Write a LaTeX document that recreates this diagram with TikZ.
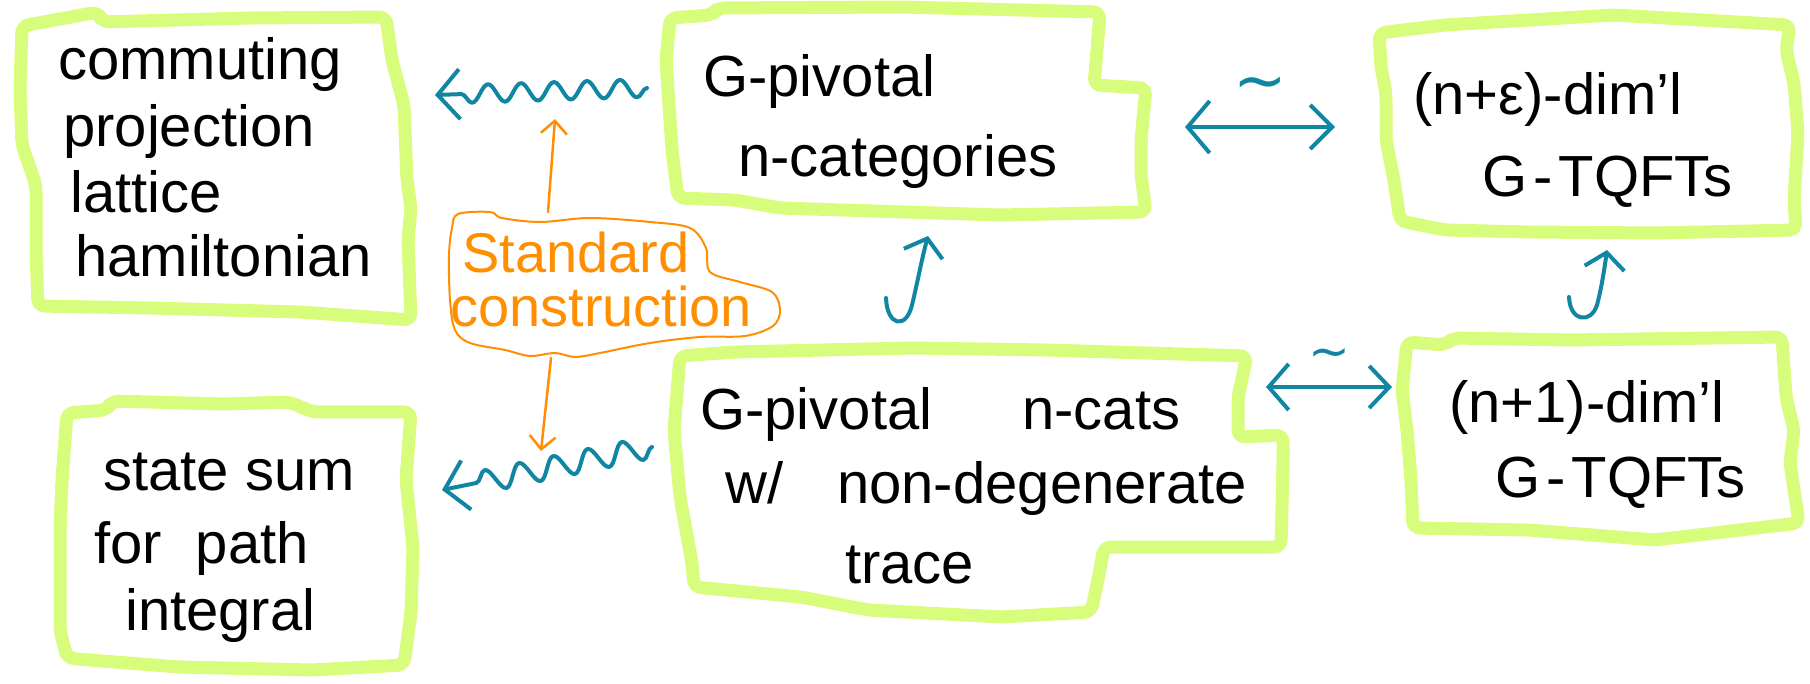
\documentclass[tikz,border=0pt]{standalone}
\usepackage{fontspec}
\setmainfont{Liberation Sans}
\newfontfamily\symbolfont{DejaVu Sans}
\usetikzlibrary{arrows.meta,decorations.pathmorphing}
\definecolor{boxgreen}{RGB}{216,252,124}
\definecolor{penteal}{RGB}{17,134,163}
\definecolor{penorange}{RGB}{255,142,0}
\tikzset{
  frame/.style={draw=boxgreen, line width=13pt, line join=round, line cap=round, rounded corners=7pt},
  hw/.style={font=\fontsize{58}{62}\selectfont, anchor=base west, inner sep=0pt, text=black},
  orangetext/.style={font=\fontsize{56}{60}\selectfont, anchor=base west, inner sep=0pt, text=penorange},
  cloudline/.style={draw=penorange, line width=2pt},
  conn/.style={draw=penteal, line width=4pt, line cap=round, line join=round},
  bigbarb/.style={-{Straight Barb[length=22pt,width=50pt]}},
  hookbarb/.style={-{Straight Barb[length=16pt,width=40pt]}},
  wavyA/.style={decorate, decoration={snake, amplitude=9pt, segment length=33pt, post length=18pt}},
  wavyB/.style={decorate, decoration={snake, amplitude=11pt, segment length=35pt, post length=18pt}},
  orangearrow/.style={draw=penorange, line width=2.5pt, line cap=round, -{Straight Barb[length=13pt,width=26pt]}},
  tildelab/.style={text=penteal, inner sep=0pt},
}
\begin{document}
\begin{tikzpicture}[x=1pt,y=-1pt]
\useasboundingbox (0,0) rectangle (1810,684);

% ---------- green frames ----------
% A: commuting projection lattice hamiltonian
\draw[frame] (22,26) -- (98,12) -- (102,22) -- (250,18) -- (386,17) -- (392,60) -- (404,105)
  -- (407,180) -- (411,208) -- (408,240) -- (411,320) -- (300,312) -- (150,308) -- (38,306)
  -- (36,250) -- (36,185) -- (22,145) -- (20,90) -- cycle;
% B: G-pivotal n-categories
\draw[frame] (670,18) -- (712,15) -- (718,8) -- (900,7) -- (1100,12) -- (1097,50) -- (1094,85)
  -- (1146,88) -- (1141,140) -- (1141,175) -- (1146,212) -- (1000,215) -- (780,208) -- (735,200)
  -- (678,198) -- (672,150) -- (670,120) -- (666,60) -- cycle;
% C: (n+eps)-dim'l G-TQFTs
\draw[frame] (1379,33) -- (1445,25) -- (1613,15) -- (1790,25) -- (1786,50) -- (1794,83)
  -- (1798,133) -- (1794,200) -- (1796,230) -- (1655,233) -- (1529,232) -- (1445,230)
  -- (1400,221) -- (1394,180) -- (1386,140) -- (1386,93) -- (1381,67) -- cycle;
% D: state sum for path integral
\draw[frame] (67,413) -- (107,410) -- (112,401) -- (223,404) -- (290,402) -- (312,412)
  -- (411,412) -- (406,480) -- (413,547) -- (411,613) -- (404,665) -- (312,670) -- (179,667)
  -- (89,660) -- (67,658) -- (60,630) -- (60,530) -- (62,480) -- cycle;
% E: G-pivotal n-cats w/ non-degenerate trace
\draw[frame] (680,356) -- (734,352) -- (912,348) -- (1046,350) -- (1247,356) -- (1238,397)
  -- (1238,437) -- (1283,435) -- (1283,463) -- (1281,547) -- (1104,547) -- (1098,580)
  -- (1091,612) -- (1002,617) -- (868,610) -- (801,597) -- (694,587) -- (692,563)
  -- (680,497) -- (674,430) -- cycle;
% F: (n+1)-dim'l G-TQFTs
\draw[frame] (1407,342) -- (1445,345) -- (1453,338) -- (1571,340) -- (1782,337) -- (1786,397)
  -- (1794,430) -- (1790,463) -- (1799,523) -- (1655,540) -- (1529,530) -- (1413,528)
  -- (1411,480) -- (1407,430) -- (1402,390) -- cycle;

% ---------- texts ----------
\node[hw] (a1) at (58,80)  {commuting};
\node[hw] (a2) at (63,147) {projection};
\node[hw] (a3) at (70,213) {lattice};
\node[hw] (a4) at (75,277) {hamiltonian};

\node[hw] (b1) at (703,97)  {G-pivotal};
\node[hw] (b2) at (738,177) {n-categories};

\node[hw] (c1) at (1413,115) {(n+ε)-dim'l};
\node[hw] (c2) at (1482,197) {G\hspace{6pt}-\hspace{6pt}TQFTs};

\node[hw] (d1) at (103,490) {state sum};
\node[hw] (d2) at (94,563)  {for\hspace{18pt} path};
\node[hw] (d3) at (125,630) {integral};

\node[hw] (e1) at (700,430) {G-pivotal\hspace{90pt}n-cats};
\node[hw] (e2) at (725,503) {w/\hspace{54pt}non-degenerate};
\node[hw] (e3) at (845,583) {trace};

\node[hw] (f1) at (1449,423) {(n+1)-dim'l};
\node[hw] (f2) at (1495,497) {G\hspace{6pt}-\hspace{6pt}TQFTs};

% ---------- orange cloud ----------
\draw[cloudline] plot[smooth cycle, tension=0.55] coordinates {
  (458,214) (490,212) (502,218) (540,222) (590,218) (650,222) (690,228) (706,248)
  (710,272) (740,282) (772,292) (780,310) (773,326) (745,336) (700,337) (650,343)
  (600,353) (575,357) (555,353) (530,356) (505,350) (470,343) (455,330) (450,300)
  (449,255) (452,228)};
\node[orangetext] (s1) at (462,273) {Standard};
\node[orangetext] (s2) at (450,327) {construction};

\coordinate (cloudTop) at (548,212);
\coordinate (upTip) at (555,119);
\coordinate (cloudBot) at (551,358);
\coordinate (downTip) at (541,451);
\draw[orangearrow] (cloudTop) -- (upTip);
\draw[orangearrow] (cloudBot) -- (downTip);

% ---------- teal connectors ----------
\coordinate (wBs) at (647,88);
\coordinate (wAt) at (435,95);
\draw[conn, bigbarb, wavyA] (wBs) -- (wAt);

\coordinate (wEs) at (652,447);
\coordinate (wDt) at (442,490);
\draw[conn, bigbarb, wavyB] (wEs) -- (wDt);

\coordinate (bcL) at (1185,127);
\coordinate (bcR) at (1335,127);
\draw[conn, {Straight Barb[length=22pt,width=52pt]}-{Straight Barb[length=22pt,width=44pt]}]
  (bcL) -- node[tildelab, above=22pt, font=\symbolfont\fontsize{64}{64}\selectfont] (t1) {∼} (bcR);

\coordinate (efL) at (1266,387);
\coordinate (efR) at (1392,387);
\draw[conn, {Straight Barb[length=20pt,width=46pt]}-{Straight Barb[length=20pt,width=42pt]}]
  (efL) -- node[tildelab, above=16pt, font=\symbolfont\fontsize{50}{50}\selectfont] (t2) {∼} (efR);

\coordinate (hkE) at (886,298);
\coordinate (hkB) at (928,236);
\draw[conn, hookbarb] (hkE) .. controls (887,326) and (906,330) .. (912,305)
  .. controls (917,285) and (921,262) .. (hkB);

\coordinate (hkF) at (1569,297);
\coordinate (hkC) at (1607,250);
\draw[conn, hookbarb] (hkF) .. controls (1570,322) and (1591,324) .. (1597,305)
  .. controls (1601,290) and (1604,272) .. (hkC);

\end{tikzpicture}
\end{document}
